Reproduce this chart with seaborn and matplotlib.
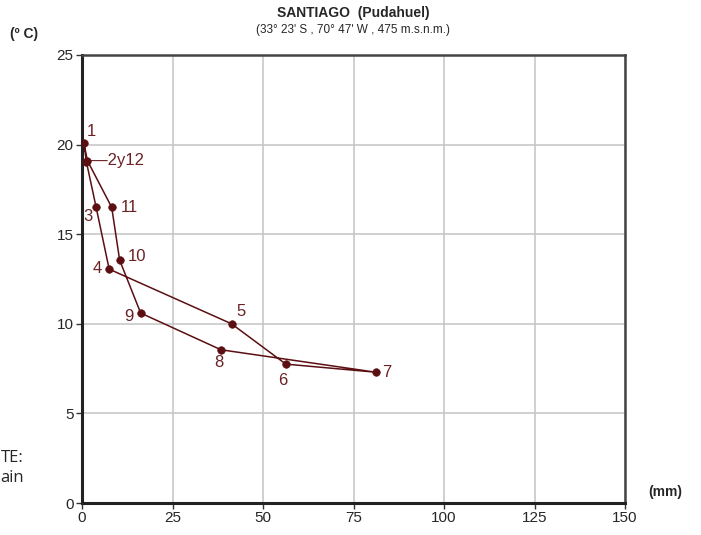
import matplotlib
matplotlib.use('Agg')
import matplotlib.pyplot as plt
import numpy as np
import pandas as pd
import seaborn as sns

# monthly climate data, Santiago (Pudahuel)
months = ['1', '2', '3', '4', '5', '6', '7', '8', '9', '10', '11', '12']
precip = [0.5, 1.2, 3.9, 7.5, 41.3, 56.3, 81.1, 38.4, 16.2, 10.4, 8.2, 1.5]
temp = [20.1, 19.05, 16.5, 13.05, 10.0, 7.75, 7.3, 8.55, 10.6, 13.55, 16.5, 19.1]
label_text = ['1', '—2y12', '3', '4', '5', '6', '7', '8', '9', '10', '11', '']
# label offsets in pixels (dx, dy, ha)
offsets = [(3, 11, 'left'), (5, 1, 'left'), (-8, -9, 'center'), (-7, 1, 'right'),
           (9, 12, 'center'), (-3, -16, 'center'), (7, 0, 'left'), (-2, -13, 'center'),
           (-7, -3, 'right'), (8, 4, 'left'), (9, 0, 'left'), (0, 0, 'left')]

df = pd.DataFrame({'mes': months, 'pp': precip, 't': temp})
loop = pd.concat([df, df.iloc[[0]]], ignore_index=True)

sns.set_style('white')
plt.rcParams['font.family'] = ['Liberation Sans Narrow', 'Liberation Sans', 'DejaVu Sans']

col = '#5c0f12'
fig = plt.figure(figsize=(7.01, 5.35), dpi=100)
ax = fig.add_axes([0.117, 0.0598, 0.7746, 0.8374])

sns.lineplot(data=loop, x='pp', y='t', sort=False, estimator=None, color=col, lw=1.1, ax=ax)
sns.scatterplot(data=df, x='pp', y='t', color=col, s=30, edgecolor=col, zorder=5, ax=ax)

for i in range(len(df)):
    if label_text[i] == '':
        continue
    dx, dy, ha = offsets[i]
    ax.annotate(label_text[i], (precip[i], temp[i]), xytext=(dx, dy), textcoords='offset pixels',
                ha=ha, va='center', fontsize=12, color='#6a2225',
                family=['Liberation Sans', 'DejaVu Sans'])

ax.set_xlim(0, 150)
ax.set_ylim(0, 25)
ax.set_xticks(np.arange(0, 151, 25))
ax.set_yticks(np.arange(0, 26, 5))
ax.grid(True, color='#c4c4c4', lw=1.1)
ax.set_axisbelow(True)
ax.set_xlabel('')
ax.set_ylabel('')
ax.tick_params(axis='both', direction='out', length=4, width=1, color='#333333',
               labelsize=11, pad=2, left=True, bottom=True)
for s in ['left', 'bottom']:
    ax.spines[s].set_color('#222222')
    ax.spines[s].set_linewidth(2.2)
for s in ['top', 'right']:
    ax.spines[s].set_color('#444444')
    ax.spines[s].set_linewidth(1.8)

fig.text(0.504, 0.975, 'SANTIAGO  (Pudahuel)', ha='center', va='center', fontsize=10,
         fontweight='bold', family=['Liberation Sans', 'DejaVu Sans'])
fig.text(0.504, 0.944, '(33° 23\' S , 70° 47\' W , 475 m.s.n.m.)', ha='center', va='center', fontsize=8.5)
fig.text(0.014, 0.937, '(º C)', ha='left', va='center', fontsize=10, fontweight='bold',
         family=['Liberation Sans', 'DejaVu Sans'])
fig.text(0.925, 0.08, '(mm)', ha='left', va='center', fontsize=10, fontweight='bold',
         family=['Liberation Sans', 'DejaVu Sans'])
# note text at the left edge (only its end is visible in the original)
fig.text(0.001, 0.144, 'TE:', ha='left', va='center', fontsize=12, family=['Open Sans', 'DejaVu Sans'])
fig.text(0.001, 0.107, 'ain', ha='left', va='center', fontsize=12, family=['Open Sans', 'DejaVu Sans'])

fig.savefig('out.png', dpi=100)
